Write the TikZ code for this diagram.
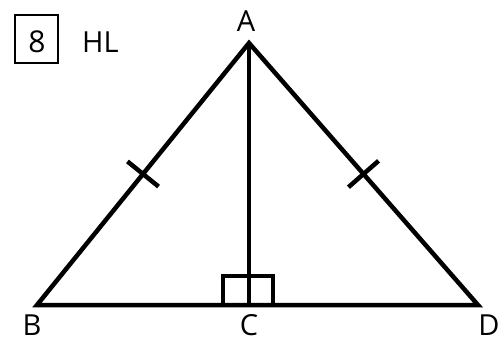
\documentclass[tikz,border=0pt]{standalone}
\usepackage{fontspec}
\setmainfont{Open Sans}
\usetikzlibrary{calc}
\begin{document}
\begin{tikzpicture}[x=1pt,y=-1pt,
  edge/.style={line width=4.5pt,line cap=butt,line join=miter},
  lbl/.style={font=\fontsize{29}{29}\selectfont,inner sep=0pt,anchor=base},
  tick/.style={line width=4.5pt}]
\useasboundingbox (0,0) rectangle (503,342);
\coordinate (A) at (249,43);
\coordinate (B) at (37,305);
\coordinate (D) at (478,305);
\coordinate (C) at (249,305);
\draw[edge] (B) -- (A) -- (D) -- cycle;
\draw[edge] (A) -- (C);
% right angle marks
\draw[line width=4.5pt] (223,305) -- (223,276) -- (273,276) -- (273,305);
% ticks
\coordinate (m1) at ($(B)!0.5!(A)$);
\draw[tick] ($(m1)!20pt!90:(A)$) -- ($(m1)!20pt!-90:(A)$);
\coordinate (m2) at ($(D)!0.5!(A)$);
\draw[tick] ($(m2)!20pt!90:(A)$) -- ($(m2)!20pt!-90:(A)$);
% labels
\node[lbl] (la) at (246,32) {A};
\node[lbl] (lb) at (32,335) {B};
\node[lbl] (lc) at (249,335) {C};
\node[lbl] (ld) at (489,335) {D};
% box
\draw[line width=2pt] (15,15) rectangle (58,63);
\node[lbl,font=\fontsize{30}{30}\selectfont] (n8) at (37,52.5) {8};
\node[lbl,anchor=base west] (hl) at (82,52.5) {HL};
\end{tikzpicture}
\end{document}
